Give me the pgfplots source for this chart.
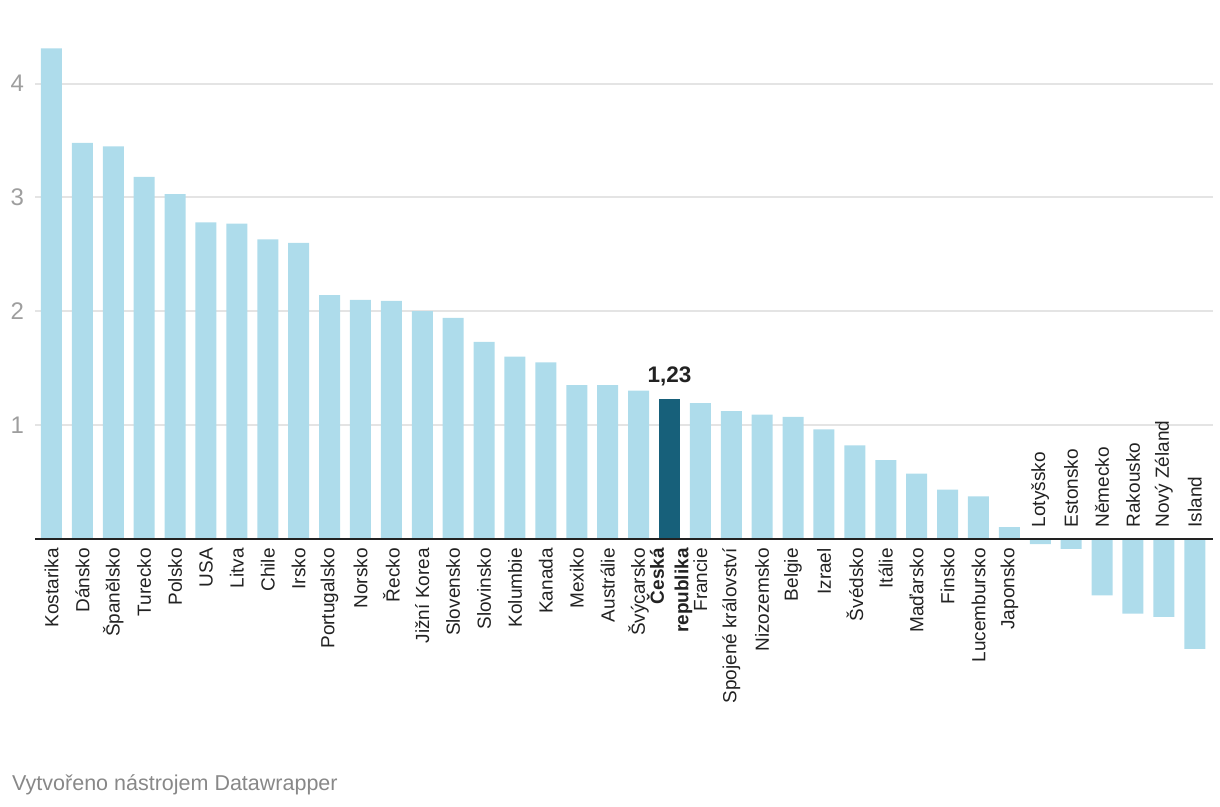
\documentclass[border=0pt]{standalone}
\usepackage{fontspec}
\setmainfont{Liberation Sans}
\usepackage{pgfplots}
\pgfplotsset{compat=1.18}
\usepackage{pgfplotstable}

\definecolor{barlight}{RGB}{174,220,235}
\definecolor{bardark}{RGB}{23,96,122}
\definecolor{gridgray}{RGB}{228,228,228}
\definecolor{tickgray}{RGB}{158,158,158}
\definecolor{labeldark}{RGB}{34,34,34}
\definecolor{footgray}{RGB}{136,136,136}

% change in value, one row per country (index = position on the x axis)
\pgfplotstableread{
idx val
0 4.31
1 3.48
2 3.45
3 3.18
4 3.03
5 2.78
6 2.77
7 2.63
8 2.60
9 2.14
10 2.10
11 2.09
12 2.00
13 1.94
14 1.73
15 1.60
16 1.55
17 1.35
18 1.35
19 1.30
21 1.19
22 1.12
23 1.09
24 1.07
25 0.96
26 0.82
27 0.69
28 0.57
29 0.43
30 0.37
31 0.10
32 -0.05
33 -0.09
34 -0.50
35 -0.66
36 -0.69
37 -0.97
}\others

\begin{document}
\begin{tikzpicture}[x=1pt,y=1pt]
\path[use as bounding box] (0pt,0pt) rectangle (1220pt,806pt);
\begin{axis}[
  at={(35.1pt,142.4pt)}, anchor=south west,
  x=30.9pt, y=113.7pt,
  xmin=-0.53, xmax=37.58, ymin=-1.1, ymax=4.45,
  axis x line*=middle, axis y line*=left,
  x axis line style={draw=none},
  y axis line style={draw=none},
  hide obscured x ticks=false,
  tick style={draw=none},
  ymajorgrids, grid style={gridgray, line width=2pt},
  ytick={1,2,3,4},
  yticklabel style={font=\fontsize{24}{24}\selectfont, text=tickgray,
    anchor=east, inner sep=0pt, xshift=-11pt},
  /pgf/number format/assume math mode=true,
  xtick={0,...,31},
  xticklabels={Kostarika,Dánsko,Španělsko,Turecko,Polsko,USA,Litva,Chile,Irsko,
    Portugalsko,Norsko,Řecko,Jižní Korea,Slovensko,Slovinsko,Kolumbie,Kanada,
    Mexiko,Austrálie,Švýcarsko,{\textbf{Česká}\\\textbf{republika}},Francie,
    Spojené království,Nizozemsko,Belgie,Izrael,Švédsko,Itálie,Maďarsko,Finsko,
    Lucembursko,Japonsko},
  xticklabel style={font=\fontsize{19}{24.5}\selectfont, text=labeldark,
    rotate=90, anchor=east, align=right, inner ysep=0pt, inner xsep=9.5pt},
  extra x ticks={32,...,37},
  extra x tick labels={Lotyšsko,Estonsko,Německo,Rakousko,Nový Zéland,Island},
  extra x tick style={xticklabel style={anchor=west, inner xsep=11pt}},
  clip=false,
]
\addplot[ybar, bar width=21pt, bar shift=0pt, fill=barlight, draw=none]
  table[x=idx, y=val] {\others};
\addplot[ybar, bar width=21pt, bar shift=0pt, fill=bardark, draw=none,
  point meta=y, nodes near coords,
  nodes near coords style={anchor=base, yshift=16pt, text=labeldark,
    font=\bfseries\fontsize{22.5}{22.5}\selectfont,
    /pgf/number format/.cd, fixed, fixed zerofill, precision=2, use comma}]
  coordinates {(20,1.23)};
\draw[labeldark, line width=2pt] (axis cs:-0.53,0) -- (axis cs:37.58,0);
\end{axis}
\node[anchor=base west, inner sep=0pt, text=footgray,
  font=\fontsize{21.5}{24}\selectfont] at (12pt,16pt) {Vytvořeno nástrojem Datawrapper};
\end{tikzpicture}
\end{document}
